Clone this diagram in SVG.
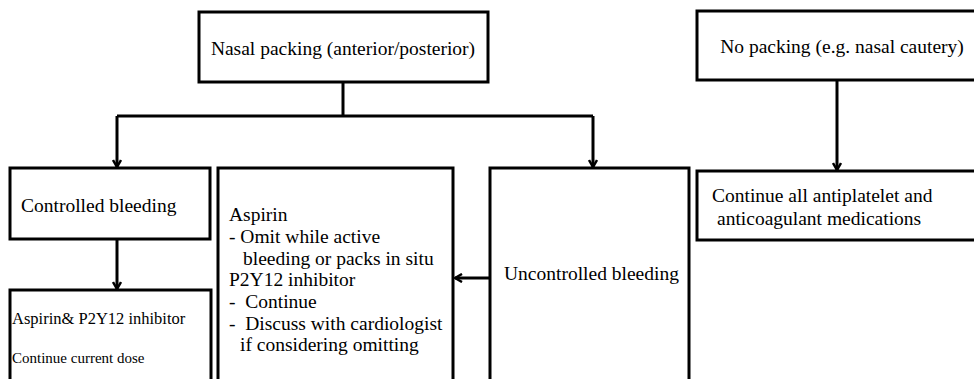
<svg xmlns="http://www.w3.org/2000/svg" width="974" height="379" viewBox="0 0 974 379">
<style>
.box{fill:#fff;stroke:#000;stroke-width:3}
.t{font-family:"Liberation Serif","Times New Roman",serif;fill:#000;font-size:19.5px}
.s{font-size:16.5px}
.xs{font-size:15px}
.ln{fill:none;stroke:#000;stroke-width:3}
</style>
<defs>
<marker id="ah" viewBox="0 0 10 10" refX="8.5" refY="5" markerWidth="10" markerHeight="10" markerUnits="userSpaceOnUse" orient="auto">
<path d="M1.5,1 L8.5,5 L1.5,9" fill="none" stroke="#000" stroke-width="2.5"/>
</marker>
</defs>
<rect width="974" height="379" fill="#fff"/>
<g id="connectors">
<polyline class="ln" points="343,82 343,116"/>
<polyline class="ln" points="117,116 593,116"/>
<polyline class="ln" points="117,116 117,167" marker-end="url(#ah)"/>
<polyline class="ln" points="593,116 593,167" marker-end="url(#ah)"/>
<polyline class="ln" points="837,80 837,170" marker-end="url(#ah)"/>
<polyline class="ln" points="117,239 117,289" marker-end="url(#ah)"/>
<polyline class="ln" points="490,278 455,278" marker-end="url(#ah)"/>
</g>
<g id="nasal-packing">
<rect class="box" x="199" y="12" width="289" height="70"/>
<text class="t" x="343" y="55" text-anchor="middle">Nasal packing (anterior/posterior)</text>
</g>
<g id="no-packing">
<rect class="box" x="697" y="11" width="280" height="69"/>
<text class="t" x="842" y="53" text-anchor="middle">No packing (e.g. nasal cautery)</text>
</g>
<g id="controlled">
<rect class="box" x="10" y="168" width="200" height="71"/>
<text class="t" x="21" y="212">Controlled bleeding</text>
</g>
<g id="aspirin-p2y12">
<rect class="box" x="10" y="290" width="201" height="95"/>
<text class="t s" x="12" y="324">Aspirin&amp; P2Y12 inhibitor</text>
<text class="t xs" x="12" y="363">Continue current dose</text>
</g>
<g id="aspirin-omit">
<rect class="box" x="218" y="168" width="235" height="220"/>
<text class="t" x="229" y="221">Aspirin</text>
<text class="t" x="229" y="243">- Omit while active</text>
<text class="t" x="243" y="265">bleeding or packs in situ</text>
<text class="t" x="229" y="286">P2Y12 inhibitor</text>
<text class="t" x="229" y="308" xml:space="preserve">-  Continue</text>
<text class="t" x="229" y="330" xml:space="preserve">-  Discuss with cardiologist</text>
<text class="t" x="240" y="351">if considering omitting</text>
</g>
<g id="uncontrolled">
<rect class="box" x="490" y="168" width="199" height="220"/>
<text class="t" x="504" y="280">Uncontrolled bleeding</text>
</g>
<g id="continue-all">
<rect class="box" x="697" y="171" width="280" height="69"/>
<text class="t" x="712" y="202">Continue all antiplatelet and</text>
<text class="t" x="717" y="225">anticoagulant medications</text>
</g>
</svg>
